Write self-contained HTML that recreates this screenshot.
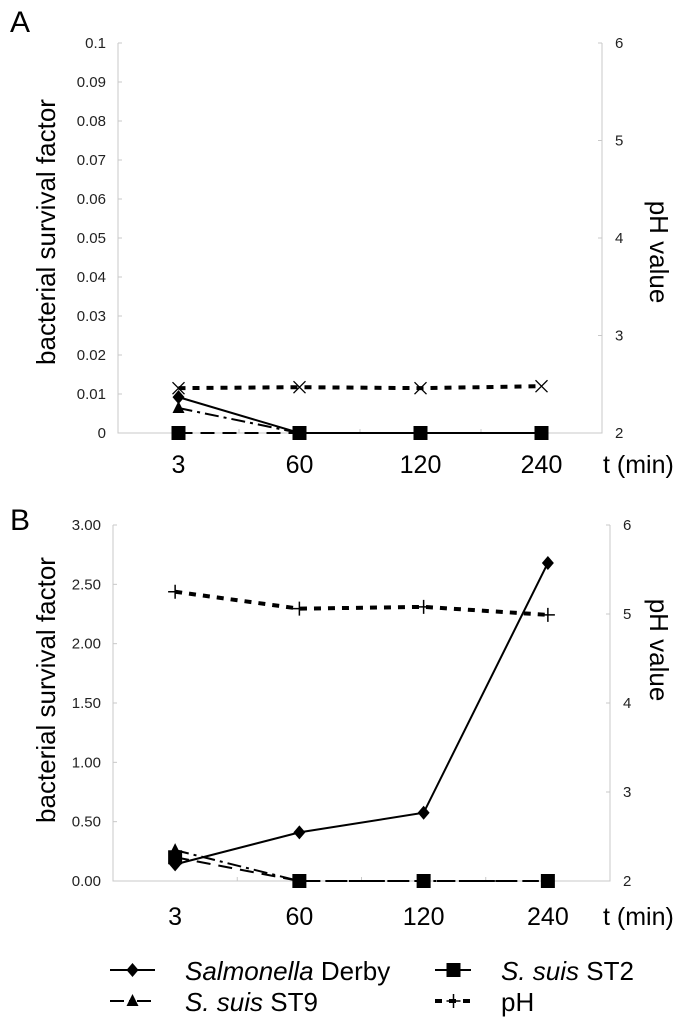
<!DOCTYPE html>
<html><head><meta charset="utf-8"><style>
body{margin:0;background:#fff;}
svg{display:block;font-family:"Liberation Sans",Arial,sans-serif;}
</style></head><body>
<svg id="fig" width="689" height="1024" viewBox="0 0 689 1024">
<text x="10" y="32" font-size="30">A</text>
<text x="10" y="530" font-size="30">B</text>
<g id="pa"></g>
<g id="pb"></g>
<g id="legend"></g>
</svg>
<script>
const categories=["3","60","120","240"];
const aSalmonella=[0.0092,0,0,0];
const aST9=[0.0064,0,0,0];
const aST2=[0,0,0,0];
const aPH=[2.46,2.47,2.46,2.48];
const aLeftTicks=["0","0.01","0.02","0.03","0.04","0.05","0.06","0.07","0.08","0.09","0.1"];
const bSalmonella=[0.14,0.41,0.575,2.68];
const bST9=[0.26,0,0,0];
const bST2=[0.2,0,0,0];
const bPH=[5.25,5.06,5.08,4.99];
const bLeftTicks=["0.00","0.50","1.00","1.50","2.00","2.50","3.00"];
const rightTicks=["2","3","4","5","6"];

const NS="http://www.w3.org/2000/svg";
function mk(parent,tag,attrs,text){const e=document.createElementNS(NS,tag);for(const k in attrs)e.setAttribute(k,attrs[k]);if(text!==undefined)e.textContent=text;parent.appendChild(e);return e;}

function marker(g,type,x,y){
  let m;
  if(type==="diamond"){m=mk(g,"polygon",{points:`${x},${y-7} ${x+6},${y} ${x},${y+7} ${x-6},${y}`,fill:"#000"});}
  else if(type==="triangle"){m=mk(g,"polygon",{points:`${x},${y-7} ${x+6},${y+5} ${x-6},${y+5}`,fill:"#000"});}
  else if(type==="square"){m=mk(g,"rect",{x:x-7,y:y-7,width:14,height:14,fill:"#000"});}
  else if(type==="x"){m=mk(g,"path",{d:`M${x-6},${y-6}L${x+6},${y+6}M${x+6},${y-6}L${x-6},${y+6}`,stroke:"#000","stroke-width":1.3,fill:"none"});}
  else {m=mk(g,"path",{d:`M${x-7},${y}L${x+7},${y}M${x},${y-7}L${x},${y+7}`,stroke:"#000","stroke-width":1.5,fill:"none"});}
  
  
}

function panel(g,cfg){
  const {L,R,T,B,lmax,ticks}=cfg;
  const step=(R-L)/categories.length;
  const xs=i=>L+step*(i+0.5);
  const yl=v=>B-(v/lmax)*(B-T);
  const yr=v=>B-((v-2)/4)*(B-T);
  const ax=mk(g,"path",{d:`M${L},${T}L${L},${B}L${R},${B}L${R},${T}`,stroke:"#c8c8c8","stroke-width":1,fill:"none"});
  
  
  ticks.forEach((t,i)=>{
    const v=lmax*i/(ticks.length-1);const y=yl(v);
    mk(g,"line",{x1:L,x2:L+4,y1:y,y2:y,stroke:"#c8c8c8"});
    const tx=mk(g,"text",{x:L-12,y:y+5,"font-size":15,"text-anchor":"end",fill:"#222"},t);
    
    
  });
  rightTicks.forEach(t=>{
    const y=yr(+t);
    mk(g,"line",{x1:R-4,x2:R,y1:y,y2:y,stroke:"#c8c8c8"});
    const tx=mk(g,"text",{x:R+13,y:y+5,"font-size":15,fill:"#222"},t);
    
    
  });
  for(let i=1;i<categories.length;i++){mk(g,"line",{x1:L+step*i,x2:L+step*i,y1:B-4,y2:B,stroke:"#c8c8c8"});}
  categories.forEach((c,i)=>{
    const tx=mk(g,"text",{x:xs(i),y:cfg.labY,"font-size":25,"text-anchor":"middle"},c);
    
    
  });
  const xt=mk(g,"text",{x:603,y:cfg.labY,"font-size":25},"t (min)");
  
  
  const lt=mk(g,"text",{x:0,y:0,"font-size":26,"text-anchor":"middle",transform:`translate(${cfg.ltx},${cfg.lty}) rotate(-90)`},"bacterial survival factor");
  
  
  const rt=mk(g,"text",{x:0,y:0,"font-size":26,"text-anchor":"middle",transform:`translate(${cfg.rtx},${cfg.rty}) rotate(90)`},"pH value");
  
  
  const series=[
    {d:cfg.st2,y:yl,dash:"14 8",w:2,m:"square",n:"st2-line"},
    {d:cfg.st9,y:yl,dash:"14 5 3 5",w:2,m:"triangle",n:"st9-line"},
    {d:cfg.sal,y:yl,dash:"",w:2,m:"diamond",n:"salmonella-line"},
    {d:cfg.ph,y:yr,dash:"7 7",w:4,m:cfg.phm,n:"ph-line"}
  ];
  series.forEach(s=>{
    const pts=s.d.map((v,i)=>`${xs(i)},${s.y(v)}`).join(" ");
    const pl=mk(g,"polyline",{points:pts,fill:"none",stroke:"#000","stroke-width":s.w,"stroke-dasharray":s.dash});
    
    
    s.d.forEach((v,i)=>marker(g,s.m,xs(i),s.y(v)));
  });
}
panel(document.getElementById("pa"),{L:118,R:602,T:43,B:433,lmax:0.1,ticks:aLeftTicks,labY:473,ltx:55,lty:232,rtx:650,rty:252,sal:aSalmonella,st9:aST9,st2:aST2,ph:aPH,phm:"x"});
panel(document.getElementById("pb"),{L:113,R:610,T:525,B:881,lmax:3,ticks:bLeftTicks,labY:925,ltx:55,lty:690,rtx:650,rty:650,sal:bSalmonella,st9:bST9,st2:bST2,ph:bPH,phm:"plus"});

const lg=document.getElementById("legend");
const items=[
 {x:110,y:970,dash:"",w:2,m:"diamond",it:"Salmonella",rest:" Derby",n:"legend-salmonella"},
 {x:435,y:970,dash:"14 8",w:2,m:"square",it:"S. suis",rest:" ST2",n:"legend-st2"},
 {x:110,y:1001,dash:"14 5 3 5",w:2,m:"triangle",it:"S. suis",rest:" ST9",n:"legend-st9"},
 {x:435,y:1001,dash:"7 7",w:4,m:"plus",it:"",rest:"pH",n:"legend-ph"}
];
items.forEach(it=>{
  const g=mk(lg,"g",{});
  
  
  const len=it.x<300?45:37;
  mk(g,"line",{x1:it.x,x2:it.x+len,y1:it.y,y2:it.y,stroke:"#000","stroke-width":it.w,"stroke-dasharray":it.dash});
  marker(g,it.m,it.x+len/2,it.y);
  const tx=it.x<300?185:501;
  const t=mk(g,"text",{x:tx,y:it.y+10,"font-size":26});
  if(it.it){mk(t,"tspan",{"font-style":"italic"},it.it);}
  mk(t,"tspan",{},it.rest);
});
</script>
</body></html>
